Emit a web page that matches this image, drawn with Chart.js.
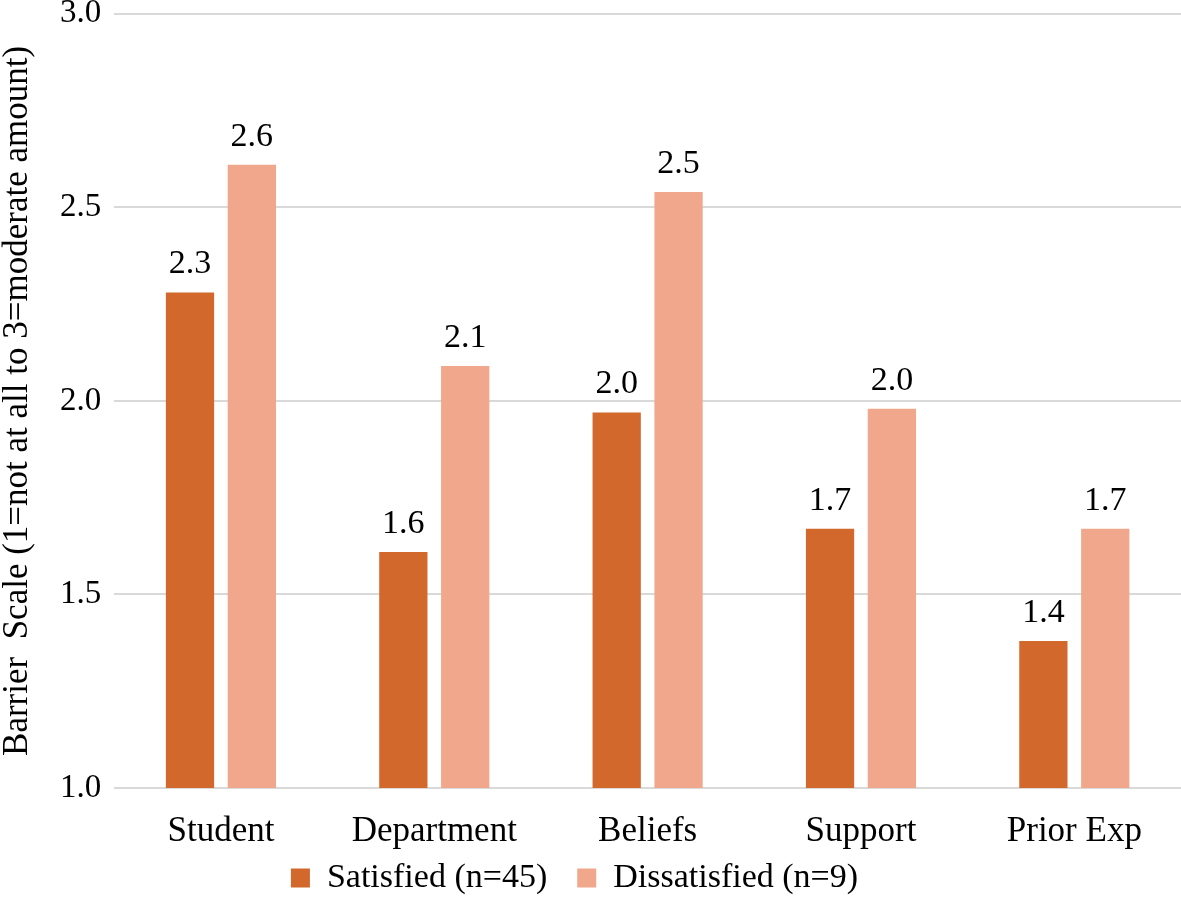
<!DOCTYPE html>
<html>
<head>
<meta charset="utf-8">
<script src="https://cdn.jsdelivr.net/npm/chart.js@4"></script>
<style>
  body { margin: 0; background: #fff; }
  canvas { display: block; }
</style>
</head>
<body>
<canvas id="myChart" width="1181" height="911"></canvas>
<script>
const categorias = ["Student", "Department", "Beliefs", "Support", "Prior Exp"];
const satisfied = [2.28, 1.61, 1.97, 1.67, 1.38];
const dissatisfied = [2.61, 2.09, 2.54, 1.98, 1.67];
const yTicks = [1.0, 1.5, 2.0, 2.5, 3.0];

const fonte = "'Liberation Serif', 'Times New Roman', serif";

// rótulos de valor em cima das barras
const rotulos = {
  id: "rotulos",
  afterDatasetsDraw(chart) {
    const ctx = chart.ctx;
    ctx.save();
    ctx.fillStyle = "#000";
    ctx.font = "34px " + fonte;
    ctx.textAlign = "center";
    ctx.textBaseline = "bottom";
    chart.data.datasets.forEach((ds, i) => {
      chart.getDatasetMeta(i).data.forEach((bar, j) => {
        ctx.fillText(ds.data[j].toFixed(1), bar.x, bar.y - 11);
      });
    });
    ctx.restore();
  }
};

// sobe a legenda para perto dos rótulos do eixo x (o fundo fica onde está, senão corta o texto)
const posLegenda = {
  id: "posLegenda",
  afterLayout(chart) {
    const lg = chart.legend;
    lg.top -= 30;
    lg.left -= 16;
    lg.right -= 16;
  }
};

const ctx = document.getElementById("myChart").getContext("2d");
new Chart(ctx, {
  type: "bar",
  data: {
    labels: categorias,
    datasets: [
      {
        label: "Satisfied (n=45)",
        data: satisfied,
        backgroundColor: "rgb(210, 104, 44)",
        categoryPercentage: 0.58,
        barPercentage: 0.78
      },
      {
        label: "Dissatisfied (n=9)",
        data: dissatisfied,
        backgroundColor: "rgb(240, 167, 140)",
        categoryPercentage: 0.58,
        barPercentage: 0.78
      }
    ]
  },
  options: {
    responsive: false,
    animation: false,
    layout: {
      padding: { left: 0, right: 0, top: 0, bottom: 0 }
    },
    scales: {
      x: {
        grid: { display: false, drawTicks: false },
        border: { display: false },
        afterFit(scale) {
          scale.height = 73;
        },
        ticks: {
          color: "#000",
          font: { size: 35, family: fonte, lineHeight: 0.4 },
          padding: 37
        }
      },
      y: {
        min: 1,
        max: 3,
        afterBuildTicks(axis) {
          axis.ticks = yTicks.map(v => ({ value: v }));
        },
        grid: { color: "#d9d9d9", lineWidth: 2, drawTicks: false },
        border: { display: false },
        ticks: {
          color: "#000",
          font: { size: 33, family: fonte, lineHeight: 0.05 },
          padding: 13,
          callback: v => Number(v).toFixed(1)
        },
        title: {
          display: true,
          text: "Barrier  Scale (1=not at all to 3=moderate amount)",
          color: "#000",
          font: { size: 35, family: fonte, lineHeight: 1.0 },
          padding: { top: 0, bottom: 12 }
        }
      }
    },
    plugins: {
      legend: {
        position: "bottom",
        maxHeight: 50,
        labels: {
          color: "#000",
          boxWidth: 19,
          boxHeight: 19,
          padding: 30,
          font: { size: 34, family: fonte }
        }
      },
      tooltip: { enabled: false }
    }
  },
  plugins: [rotulos, posLegenda]
});
</script>
</body>
</html>
